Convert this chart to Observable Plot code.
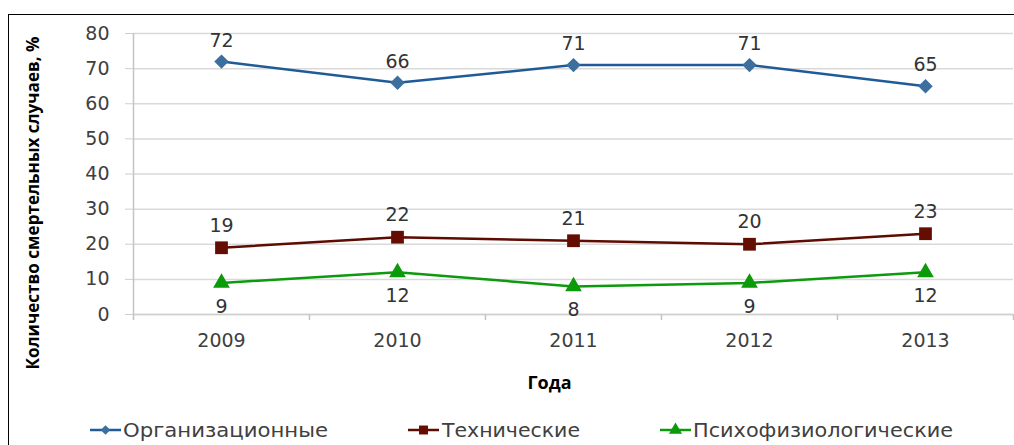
<!DOCTYPE html>
<html><head><meta charset="utf-8">
<script src="https://cdn.jsdelivr.net/npm/d3@7"></script>
<script src="https://cdn.jsdelivr.net/npm/@observablehq/plot@0.6"></script>
<style>
html,body{margin:0;padding:0;background:#fff;overflow:hidden;width:1014px;height:445px;}
#wrap{position:relative;width:1014px;height:445px;overflow:hidden;}
#frame{position:absolute;left:8px;top:14px;width:2000px;height:2000px;border-left:1px solid #000;border-top:1px solid #000;pointer-events:none;}
svg{display:block}
</style></head><body><div id="wrap"><div id="chart"></div><div id="legend"></div><div id="frame"></div></div>
<script>
const years = ["2009","2010","2011","2012","2013"];
const organizational = [72,66,71,71,65];
const technical = [19,22,21,20,23];
const psycho = [9,12,8,9,12];
const seriesNames = ["Организационные","Технические","Психофизиологические"];
const yTicks = [0,10,20,30,40,50,60,70,80];
const yLabel = "Количество смертельных случаев, %";
const xLabel = "Года";

const lineColors = ["#1f5b98","#5e0b02","#0e9a0e"];
const markerColors = ["#3c6e9e","#640e03","#0a9a0a"];
const symbols = ["diamond2","square","triangle"];
const radii = [6.5, 7.2, 6.2];
const labelDy = [-21,-22,24];

const series = [organizational, technical, psycho];
const rows = series.flatMap((vals, s) => vals.map((v, i) => ({i, year: years[i], value: v, s})));
const boundaries = d3.range(years.length + 1).map(k => k - 0.5);

const W = 1014, H = 405;
const font = "'DejaVu Sans', sans-serif";
const marks = [
  Plot.gridY(yTicks, {stroke: "#d9d9d9", strokeOpacity: 1, strokeWidth: 1.5}),
  Plot.ruleY([0], {stroke: "#cfcfcf", strokeWidth: 1.5}),
  Plot.ruleX([boundaries[0]], {stroke: "#c4c4c4", strokeWidth: 1.5, insetBottom: -6}),
  Plot.ruleX(boundaries.slice(1), {y1: 0, y2: 0, insetBottom: -6, stroke: "#c4c4c4", strokeWidth: 1.5}),
  Plot.axisY(yTicks, {tickSize: 8, tickPadding: 16, stroke: "#cfcfcf", strokeOpacity: 1, fill: "#404040", label: null, fontSize: 19}),
  Plot.axisX(d3.range(years.length), {tickFormat: i => years[i], tickSize: 0, tickPadding: 19, label: null, fill: "#404040", fontSize: 19})
];
series.forEach((vals, s) => {
  const data = rows.filter(d => d.s === s);
  marks.push(Plot.line(data, {x: "i", y: "value", stroke: lineColors[s], strokeWidth: 2.5}));
  marks.push(Plot.dot(data, {x: "i", y: "value", symbol: symbols[s], r: radii[s], fill: markerColors[s], stroke: "none"}));
  marks.push(Plot.text(data, {x: "i", y: "value", text: d => String(d.value), dy: labelDy[s], fill: "#333", fontSize: 19}));
});
marks.push(Plot.text([yLabel], {frameAnchor: "left", textAnchor: "middle", lineAnchor: "middle", rotate: -90, dx: -100, dy: 29, fontWeight: "bold", fontFamily: "'Open Sans', sans-serif", fontSize: 17, fill: "#000"}));
marks.push(Plot.text([xLabel], {frameAnchor: "bottom", textAnchor: "middle", lineAnchor: "middle", dx: -24, dy: 69, fontWeight: "bold", fontFamily: "'Open Sans', sans-serif", fontSize: 18, fill: "#000"}));

const plot = Plot.plot({
  width: W, height: H, marginLeft: 133, marginRight: 1, marginTop: 33, marginBottom: H - 314,
  style: {fontFamily: font, fontSize: "19px", color: "#404040", background: "white", overflow: "visible"},
  x: {type: "linear", domain: [-0.5, years.length - 0.5]},
  y: {domain: [0, 80]},
  marks
});
d3.select(plot).selectAll("text").filter(function() { return this.textContent === yLabel; })
  .attr("textLength", 333).attr("lengthAdjust", "spacingAndGlyphs");
document.getElementById("chart").appendChild(plot);

// legend
const iconX = [[90, 121], [408, 439], [660, 691]];
const textX = [123, 442, 693];
const textLen = [205, 138, 260];
const legendSymbols = [d3.symbolDiamond2, d3.symbolSquare, d3.symbolTriangle];
const legendSizes = [60, 80, 75];
const lg = d3.select("#legend").append("svg").attr("width", W).attr("height", 40)
  .style("font-family", font).style("background", "white");
seriesNames.forEach((name, s) => {
  const [x1, x2] = iconX[s];
  lg.append("line").attr("x1", x1).attr("x2", x2).attr("y1", 25).attr("y2", 25)
    .attr("stroke", lineColors[s]).attr("stroke-width", 2.5);
  lg.append("path").attr("d", d3.symbol(legendSymbols[s], legendSizes[s])())
    .attr("transform", `translate(${(x1 + x2) / 2},25)`).attr("fill", markerColors[s]);
  lg.append("text").attr("x", textX[s]).attr("y", 32).attr("font-size", 20).attr("fill", "#404040")
    .attr("textLength", textLen[s]).attr("lengthAdjust", "spacingAndGlyphs").text(name);
});
</script></body></html>
